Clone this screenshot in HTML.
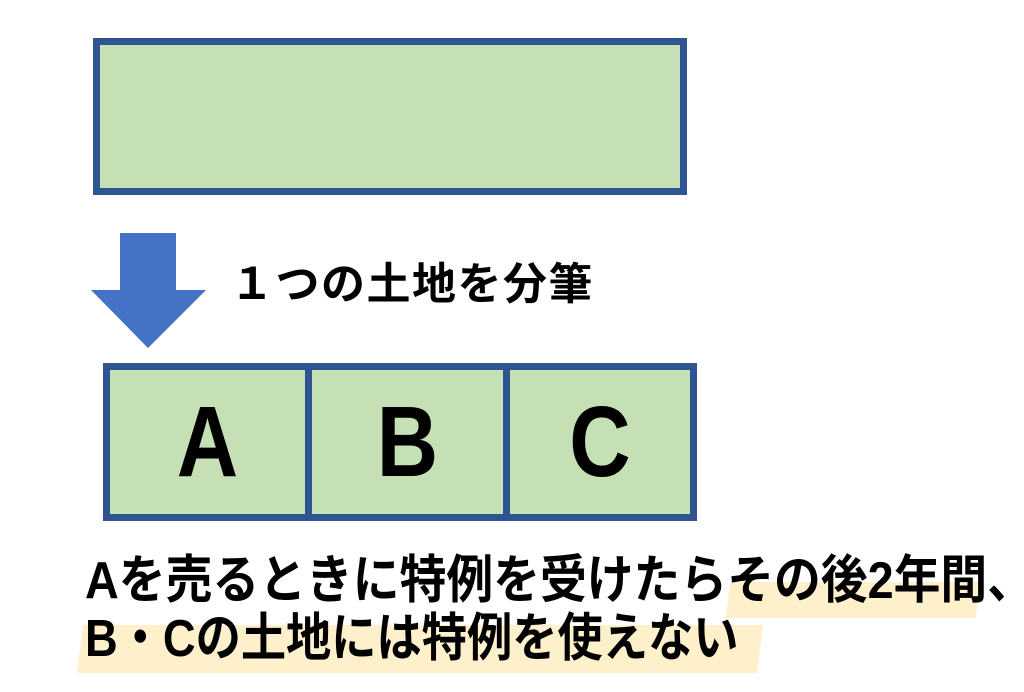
<!DOCTYPE html>
<html><head><meta charset="utf-8"><style>
body{margin:0;width:1024px;height:692px;background:#fff;position:relative;overflow:hidden;font-family:"Liberation Sans","Noto Sans CJK JP",sans-serif}
.a{position:absolute}
.box{position:absolute;background:#c5e0b4;border:7px solid #2f5590;box-sizing:border-box}
.let{position:absolute;top:363px;height:158px;line-height:158px;text-align:center;font-weight:bold;font-size:100px;color:#000;transform:scaleX(0.85)}
.hl{position:absolute;background:#fff0cc;transform:skewX(-8deg)}
.t{position:absolute;font-weight:bold;font-size:52px;color:#000;white-space:nowrap;line-height:1;transform:scaleX(0.87);transform-origin:0 0}
</style></head><body>
<div class="box" style="left:93px;top:38px;width:594px;height:157px"></div>
<svg class="a" style="left:0;top:0" width="1024" height="692"><polygon points="120,233 176,233 176,290 206,290 148,348 91,290 120,290" fill="#4472c4"/></svg>
<div class="t" style="left:230px;top:263px;font-size:44px;letter-spacing:1.5px;transform:none">１つの土地を分筆</div>
<div class="box" style="left:103px;top:363px;width:594px;height:158px"></div>
<div class="a" style="left:305px;top:363px;width:7px;height:158px;background:#2f5590"></div>
<div class="a" style="left:503px;top:363px;width:7px;height:158px;background:#2f5590"></div>
<div class="let" style="left:110px;width:195px">A</div>
<div class="let" style="left:312px;width:191px">B</div>
<div class="let" style="left:510px;width:180px">C</div>
<div class="hl" style="left:728px;top:582px;width:250px;height:36px"></div>
<div class="hl" style="left:80px;top:625px;width:680px;height:48px"></div>
<div class="t" style="left:85px;top:555px;transform:scaleX(0.9)">Aを売るときに特例を受けたらその後2年間、</div>
<div class="t" style="left:85px;top:613px">B・Cの土地には特例を使えない</div>
</body></html>
